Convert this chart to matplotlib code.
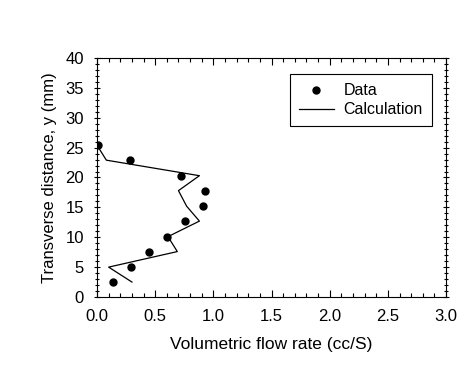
import matplotlib
matplotlib.use('Agg')
import matplotlib.pyplot as plt
from matplotlib.ticker import MultipleLocator

plt.rcParams['font.family'] = ['Liberation Sans', 'DejaVu Sans']

# measured points
data_y = [2.5, 5.0, 7.6, 10.1, 12.7, 15.2, 17.8, 20.3, 22.9, 25.4]
data_q = [0.14, 0.29, 0.45, 0.60, 0.76, 0.91, 0.93, 0.72, 0.28, 0.01]

# calculated profile
calc_y = [2.5, 5.0, 7.6, 10.1, 12.7, 15.2, 17.8, 20.3, 22.9, 25.4]
calc_q = [0.30, 0.10, 0.69, 0.61, 0.88, 0.77, 0.70, 0.88, 0.08, 0.0]

fig = plt.figure(figsize=(4.77, 3.81), dpi=100)
ax = fig.add_axes([0.2034, 0.2205, 0.7317, 0.6273])

ax.plot(data_q, data_y, 'ko', markersize=5, label='Data')
ax.plot(calc_q, calc_y, 'k-', linewidth=0.9, label='Calculation')

ax.set_xlim(0, 3.0)
ax.set_ylim(0, 40)
ax.xaxis.set_major_locator(MultipleLocator(0.5))
ax.xaxis.set_minor_locator(MultipleLocator(0.1))
ax.yaxis.set_major_locator(MultipleLocator(5))
ax.yaxis.set_minor_locator(MultipleLocator(1))
ax.set_xticklabels([f'{v:.1f}' for v in ax.get_xticks()])
ax.tick_params(axis='x', which='both', direction='in', top=True, labelsize=12, pad=9)
ax.tick_params(axis='y', which='both', direction='inout', right=True, labelsize=12, pad=7)
ax.tick_params(which='major', length=5, width=0.8)
ax.tick_params(which='minor', length=3, width=0.8)
for s in ax.spines.values():
    s.set_linewidth(0.8)

ax.set_xlabel('Volumetric flow rate (cc/S)', fontsize=12.5, labelpad=9)
ax.set_ylabel('Transverse distance, y (mm)', fontsize=12, labelpad=6)

leg = ax.legend(loc='upper left', bbox_to_anchor=(0.53, 0.965), fontsize=11.5,
                fancybox=False, edgecolor='black', framealpha=1,
                handlelength=2.2, handletextpad=0.6, borderpad=0.55,
                labelspacing=0.25)
leg.get_frame().set_linewidth(0.8)

fig.savefig('out.png', dpi=100)
